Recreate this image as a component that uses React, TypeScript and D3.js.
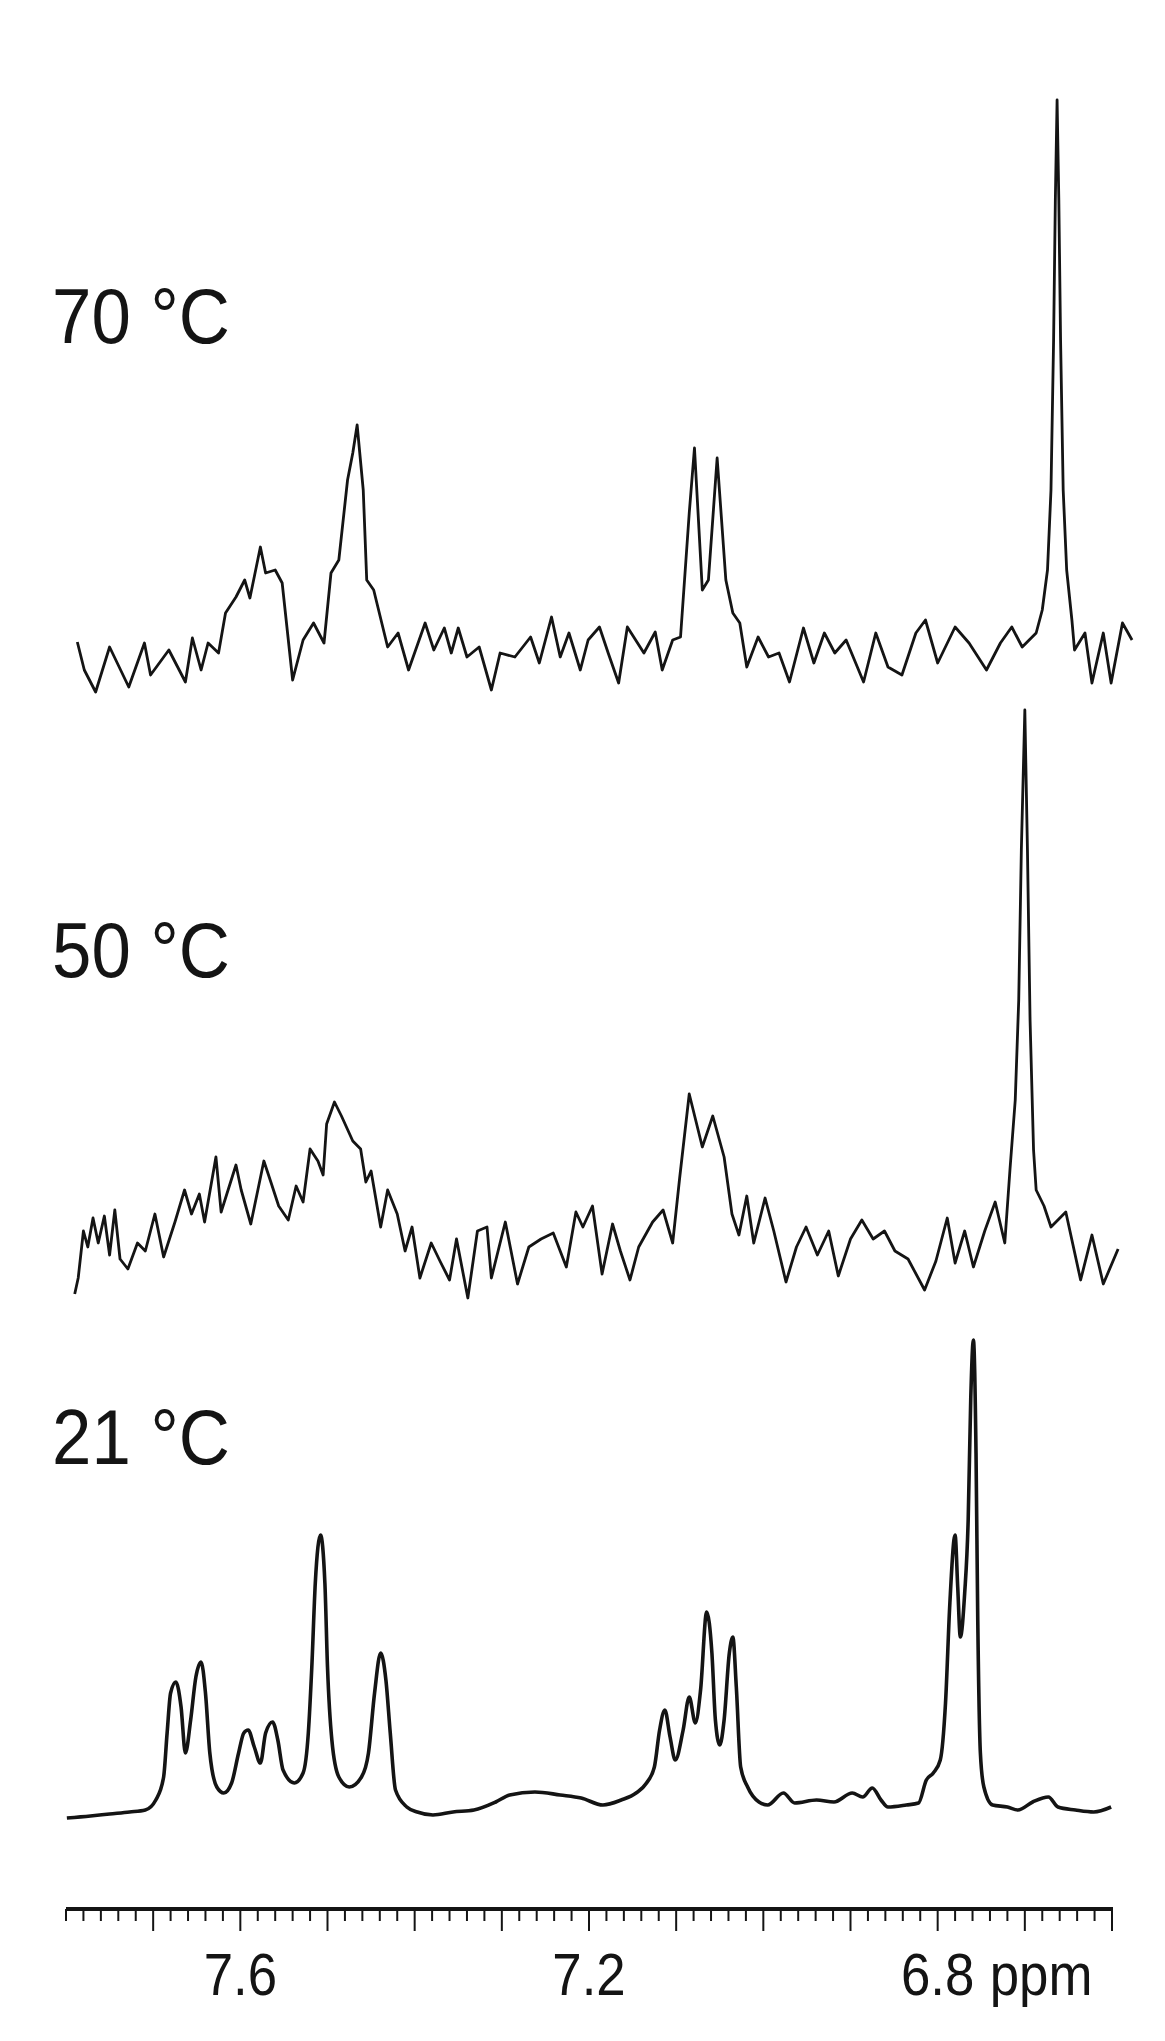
import React from "react";
import * as d3 from "d3";

// ---------- data (chemical shift in ppm, intensity in arbitrary units) ----------
const ppm70 = [7.787,7.779,7.766,7.750,7.728,7.710,7.703,7.682,7.663,7.655,7.645,7.637,7.625,7.617,7.605,7.595,7.589,7.577,7.571,7.560,7.552,7.540,7.528,7.516,7.504,7.496,7.487,7.477,7.471,7.466,7.459,7.455,7.447,7.431,7.419,7.407,7.388,7.378,7.366,7.358,7.350,7.340,7.326,7.312,7.302,7.285,7.267,7.257,7.243,7.233,7.223,7.210,7.201,7.188,7.178,7.166,7.156,7.137,7.124,7.116,7.104,7.095,7.085,7.079,7.070,7.063,7.053,7.043,7.035,7.027,7.019,7.006,6.994,6.982,6.970,6.954,6.942,6.930,6.918,6.905,6.885,6.871,6.857,6.841,6.825,6.814,6.800,6.780,6.764,6.744,6.728,6.715,6.703,6.687,6.680,6.674,6.670,6.667,6.665,6.663,6.661,6.659,6.656,6.652,6.646,6.643,6.631,6.623,6.610,6.601,6.588,6.577];
const int70 = [18,-10,-32,13,-27,17,-15,10,-22,22,-10,17,7,47,63,80,62,113,87,90,77,-20,20,37,17,87,100,180,207,235,170,80,70,13,27,-10,37,10,32,7,32,3,13,-30,7,3,23,-3,43,3,27,-10,20,33,7,-23,33,7,28,-10,20,23,147,212,70,80,202,80,47,37,-7,23,3,7,-22,32,-3,27,7,20,-22,27,-7,-15,27,40,-3,33,17,-10,17,33,13,27,50,90,170,320,460,560,460,320,170,90,40,10,27,-23,27,-23,37,20];

const ppm50 = [7.790,7.786,7.780,7.775,7.769,7.763,7.756,7.750,7.744,7.738,7.729,7.718,7.709,7.698,7.688,7.675,7.664,7.656,7.647,7.641,7.628,7.622,7.605,7.599,7.588,7.573,7.565,7.556,7.545,7.536,7.528,7.520,7.511,7.505,7.501,7.492,7.484,7.471,7.462,7.456,7.450,7.439,7.431,7.420,7.411,7.403,7.394,7.381,7.371,7.360,7.352,7.339,7.328,7.317,7.312,7.296,7.282,7.269,7.255,7.241,7.226,7.215,7.207,7.196,7.185,7.173,7.164,7.153,7.143,7.127,7.115,7.104,7.096,7.085,7.070,7.058,7.045,7.036,7.028,7.019,7.011,6.998,6.988,6.974,6.962,6.951,6.938,6.925,6.914,6.900,6.887,6.874,6.861,6.849,6.834,6.815,6.802,6.789,6.780,6.769,6.759,6.746,6.734,6.723,6.717,6.711,6.707,6.704,6.700,6.697,6.694,6.690,6.687,6.678,6.670,6.653,6.636,6.623,6.610,6.593];
const int50 = [-44,-28,19,3,32,7,34,-5,40,-9,-19,7,-1,36,-7,28,60,36,56,28,93,38,85,60,26,89,68,44,30,64,48,101,89,75,126,148,134,109,101,68,79,23,60,36,-1,23,-28,7,-11,-30,11,-48,19,23,-28,28,-34,3,11,17,-17,38,23,44,-24,26,-1,-30,3,28,40,7,72,156,103,134,93,36,15,54,7,52,19,-32,3,23,-5,19,-26,11,30,11,19,-1,-9,-40,-11,32,-13,19,-17,19,48,7,81,150,250,400,540,400,230,100,60,44,23,38,-30,15,-34,1];

const ppm21 = [7.799,7.772,7.750,7.727,7.709,7.697,7.688,7.684,7.680,7.674,7.668,7.663,7.657,7.651,7.645,7.640,7.635,7.627,7.619,7.610,7.602,7.596,7.591,7.584,7.577,7.571,7.563,7.557,7.551,7.538,7.528,7.522,7.518,7.514,7.508,7.503,7.500,7.495,7.487,7.475,7.461,7.453,7.446,7.439,7.433,7.428,7.422,7.409,7.397,7.379,7.356,7.332,7.307,7.291,7.262,7.233,7.209,7.184,7.163,7.146,7.134,7.125,7.119,7.113,7.107,7.101,7.092,7.085,7.078,7.072,7.065,7.059,7.055,7.050,7.045,7.039,7.035,7.031,7.026,7.018,7.005,6.995,6.977,6.964,6.939,6.919,6.898,6.886,6.875,6.865,6.857,6.836,6.822,6.813,6.805,6.797,6.791,6.786,6.780,6.777,6.774,6.769,6.765,6.762,6.759,6.756,6.754,6.751,6.747,6.737,6.720,6.708,6.691,6.673,6.662,6.642,6.621,6.601];
const int21 = [-8,-6,-4,-2,0,10,33,77,117,128,103,57,90,133,148,117,57,23,17,27,57,77,80,63,47,77,88,70,40,27,37,77,143,227,275,227,143,70,33,23,33,57,117,157,130,77,20,3,-2,-5,-2,0,8,15,18,15,12,5,10,17,27,43,80,100,73,50,80,113,87,120,198,157,90,65,90,157,173,123,43,23,8,5,17,7,10,8,17,13,22,10,3,5,7,30,37,50,107,207,275,223,173,217,290,413,470,357,190,57,23,5,3,0,8,13,3,0,-2,3];

const tempLabels = ["70 °C", "50 °C", "21 °C"];
const majorTickLabels = ["7.6", "7.2", "6.8"];
const majorTickValues = [7.6, 7.2, 6.8];
const axisDomain = [7.8, 6.6];

const spectra = [
  { label: tempLabels[0], ppm: ppm70, inten: int70, base: 660, labelY: 343, width: 2.8, curve: d3.curveLinear },
  { label: tempLabels[1], ppm: ppm50, inten: int50, base: 1250, labelY: 977, width: 2.8, curve: d3.curveLinear },
  { label: tempLabels[2], ppm: ppm21, inten: int21, base: 1810, labelY: 1464, width: 3.6, curve: d3.curveMonotoneX },
];

export default function App() {
  const W = 1165, H = 2041;
  const x = d3.scaleLinear().domain(axisDomain).range([66, 1112]);
  const axisY = 1909;
  const minorTicks = d3.range(0, 61).map((i) => +(7.8 - i * 0.02).toFixed(2));
  const ink = "#141414";

  return (
    <svg width={W} height={H} style={{ position: "absolute", left: 0, top: 0, display: "block", background: "#fff" }}
      fontFamily="'Liberation Sans', Arial, sans-serif">
      <rect x={0} y={0} width={W} height={H} fill="#fff" />
      {spectra.map((s, k) => {
        const y = d3.scaleLinear().domain([0, 100]).range([s.base, s.base - 100]);
        const pts = s.ppm.map((p, i) => [p, s.inten[i]] as [number, number]);
        const line = d3.line<[number, number]>().x((d) => x(d[0])).y((d) => y(d[1])).curve(s.curve);
        return (
          <g key={k}>
            <path d={line(pts) || ""} fill="none" stroke={ink} strokeWidth={s.width} strokeLinejoin="round" />
            <text transform={`translate(52,${s.labelY}) scale(0.92,1)`} fontSize={77} fill={ink}>{s.label}</text>
          </g>
        );
      })}
      <g>
        <line x1={x(axisDomain[0])} x2={x(axisDomain[1]) + 1} y1={axisY} y2={axisY} stroke={ink} strokeWidth={4} />
        {minorTicks.map((t, i) => {
          const major = Math.abs(t * 10 - Math.round(t * 10)) < 1e-6 && i > 0;
          return (
            <line key={i} x1={x(t)} x2={x(t)} y1={axisY} y2={axisY + (major ? 22 : 12)} stroke={ink} strokeWidth={2} />
          );
        })}
        {majorTickValues.map((v, i) => (
          <text key={i} transform={`translate(${x(v)},1995) scale(0.88,1)`} fontSize={60} textAnchor="middle" fill={ink}>
            {majorTickLabels[i]}
          </text>
        ))}
        <text transform={`translate(${x(6.8) + 52},1995) scale(0.88,1)`} fontSize={60} fill={ink}>ppm</text>
      </g>
    </svg>
  );
}
